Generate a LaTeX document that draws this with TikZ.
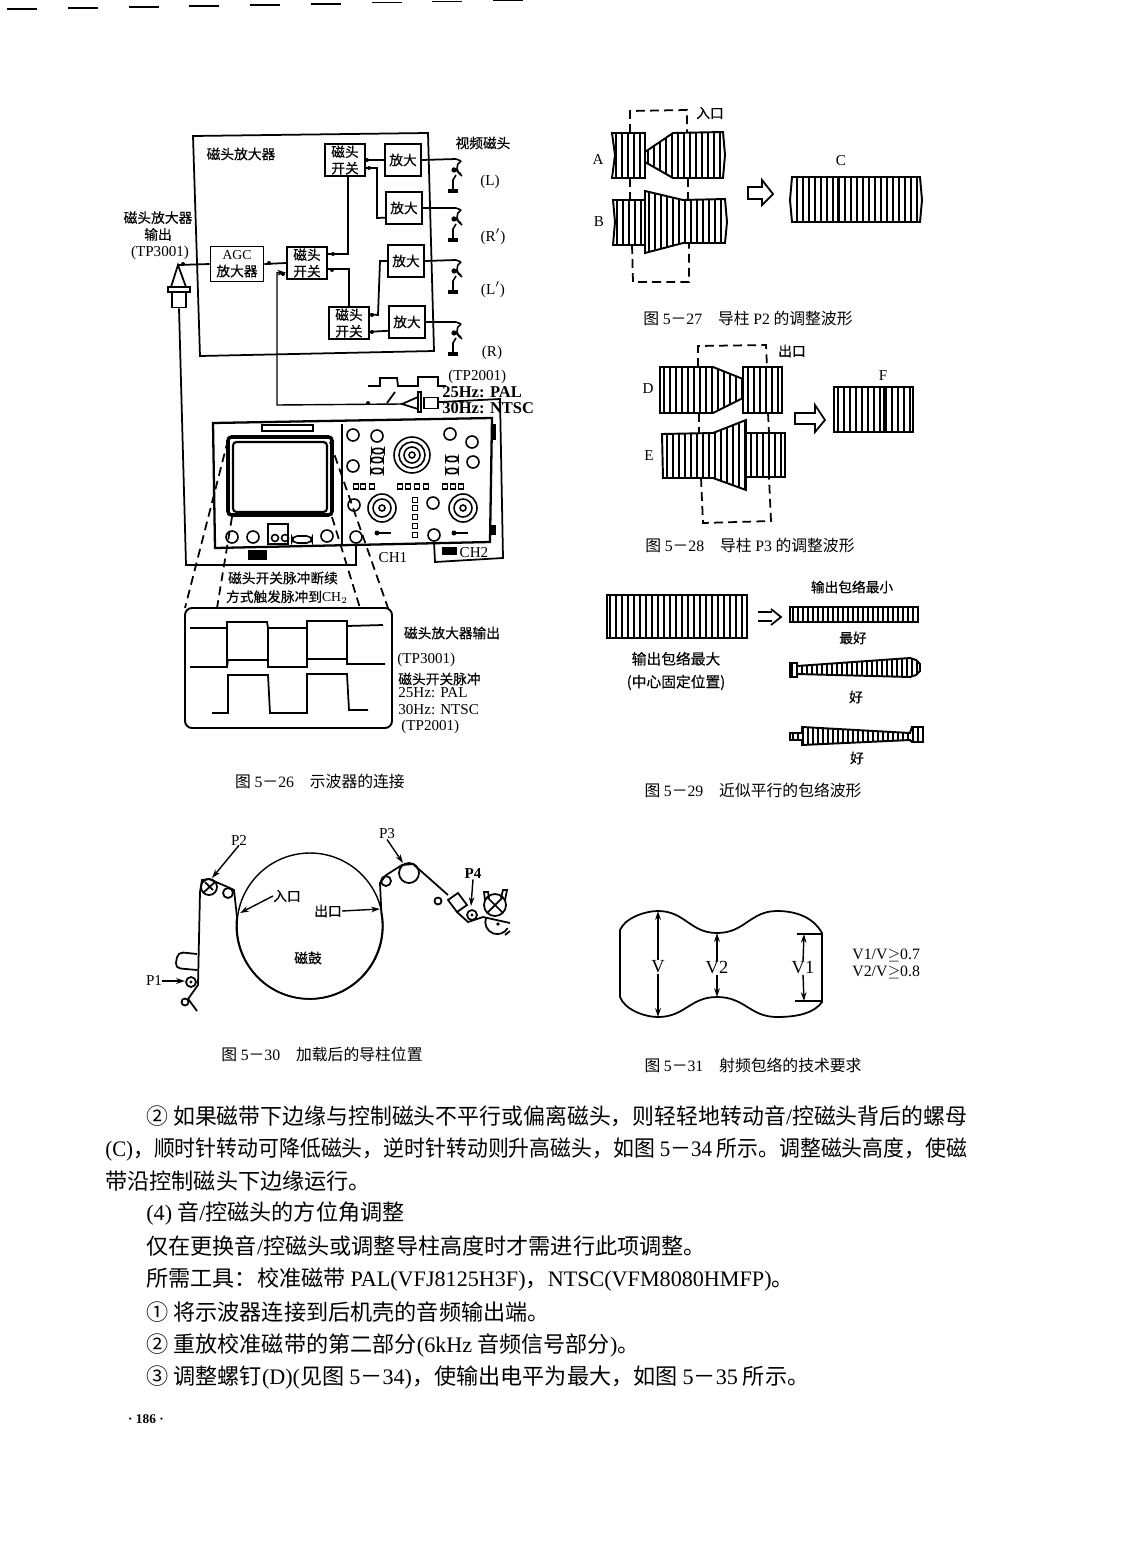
\documentclass[tikz,border=0pt]{standalone}
\usepackage{fontspec}
\usepackage{graphicx}
\setmainfont{Liberation Serif}
\newfontfamily\cjk{Noto Sans CJK SC}
\newfontfamily\cjkb[FakeBold=0.3]{Noto Sans CJK SC}
\usetikzlibrary{shapes,arrows.meta,positioning,calc}
\newcommand{\lat}[1]{{\rmfamily #1}}
\newcommand{\tapeband}[4]{%
\begin{scope}
\clip #1;
\foreach \sx in {#2,#3,...,#4}{\draw[stripe] (\sx,0) -- (\sx,1200);}
\end{scope}
\draw[tapeedge] #1;}
\newcommand{\fitline}[2]{\resizebox{#1}{\height}{#2}}
\tikzset{
wire/.style={line width=1pt},
stripe/.style={line width=1pt},
tapeedge/.style={line width=1.1pt},
dashline/.style={line width=1pt,dash pattern=on 5pt off 3pt},
arr/.style={line width=.8pt,-{Stealth[length=5pt,width=3.2pt]}},
blockbox/.style={draw,line width=1.1pt,inner sep=0pt,align=center,font=\cjkb\fontsize{7.8}{9.4}\selectfont},
ampbox/.style={blockbox,minimum width=.72cm,minimum height=.64cm},
switchbox/.style={blockbox,minimum width=.8cm,minimum height=.64cm},
lab/.style={inner sep=0pt,align=center,font=\cjkb\fontsize{7.8}{9.6}\selectfont},
latlab/.style={inner sep=0pt,font=\rmfamily\fontsize{8.6}{10}\selectfont},
hzlab/.style={inner sep=0pt,anchor=west,font=\rmfamily\bfseries\fontsize{9.4}{11}\selectfont},
biglab/.style={inner sep=0pt,font=\rmfamily\fontsize{10.5}{12}\selectfont},
ratiolab/.style={inner sep=0pt,anchor=west,font=\rmfamily\fontsize{9}{11}\selectfont},
capt/.style={inner sep=0pt,font=\cjk\fontsize{9}{10}\selectfont},
bodyline/.style={inner sep=0pt,anchor=west,font=\cjk\fontsize{12.6}{15}\selectfont},
knob/.style={draw,circle,line width=.9pt,inner sep=0pt,minimum size=.24cm},
videohead/.pic={
\draw[line width=.9pt] (0,0) -- (5,2);
\draw[line width=.9pt] (-3,9) -- (5,15);
\draw[line width=.9pt] (5,2) .. controls (-1,5) and (0,14) .. (6,17);
\fill (-2,11) circle (2.6);
\draw[line width=.9pt] (0,16) -- (-3,21) -- (-3,31);
\draw[line width=1.8pt] (-8,32) -- (2,32);
}
}
\begin{document}
\begin{tikzpicture}[x=0.02cm,y=-0.02cm]
\useasboundingbox (0,0) rectangle (1122,1568);
\fill[white] (0,0) rectangle (1122,1568);

\foreach \mx/\my in {7/9,68/8,129/7,189/6,250/5,311/4,372/2.5,432/1.5,493/0.6}
  \draw[line width=.9pt] (\mx,\my) -- ++(30,0);

% amplifier block
\draw[wire] (193,136) -- (428,133) -- (434,351) -- (200,356) -- cycle;
\node[lab] (title) at (241,154) {磁头放大器};
\node[ampbox] (amp1) at (403,160) {放大};
\node[ampbox] (amp2) at (404,208) {放大};
\node[ampbox] (amp3) at (406,261) {放大};
\node[ampbox] (amp4) at (407,322) {放大};
\node[switchbox] (sw1) at (345,160) {磁头\\开关};
\node[switchbox] (sw2) at (307,263) {磁头\\开关};
\node[switchbox] (sw3) at (349,323) {磁头\\开关};
\node[blockbox,minimum width=1.06cm,minimum height=.7cm] (agc) at (237,264) {\lat{AGC}\\放大器};

\coordinate (headL) at (456,159);
\coordinate (headRp) at (456,208);
\coordinate (headLp) at (456,260);
\coordinate (headR) at (456,322);
\draw[wire] (amp1.east) -- (headL);
\draw[wire] (amp2.east) -- (headRp);
\draw[wire] (amp3.east) -- (headLp);
\draw[wire] (amp4.east) -- (headR);
\pic at (headL) {videohead};
\pic at (headRp) {videohead};
\pic at (headLp) {videohead};
\pic at (headR) {videohead};

\draw[wire] (agc.east) -- (sw2.west);
\draw[wire] ([yshift=5pt]sw2.east) -| ([xshift=1.5pt]sw1.south);
\draw[wire] ([yshift=-3.5pt]sw2.east) -| (sw3.north);
\draw[wire] (sw1.east) -- (amp1.west);
\draw[wire] ([yshift=-4.5pt]sw1.east) -| (377,218) -- ([yshift=-5.5pt]amp2.west);
\draw[wire] ([yshift=5pt]sw3.east) -- (378,315) -- (380,261) -- (amp3.west);
\draw[wire] ([yshift=-5pt]amp4.west) -- ([yshift=-5pt]sw3.east);
\foreach \px/\py in {183/264,269/263,333/254,332/270,367/160,369/168,283/274,368/403,372/332,372/315}
  \fill (\px,\py) circle (2);

\node[lab] (headlab) at (483,143) {视频磁头};
\node[latlab] (labL) at (490,182) {(L)};
\node[latlab] (labRp) at (493,237) {(R$'$)};
\node[latlab] (labLp) at (493,290) {(L$'$)};
\node[latlab] (labR) at (492,353) {(R)};
\node[lab] (outlab) at (158,226) {磁头放大器\\输出};
\node[latlab] (tp3001a) at (160,253) {(TP3001)};

% probes
\coordinate (apexa) at (178,265);
\node[draw,wire,fill=white,minimum width=.28cm,minimum height=.3cm,inner sep=0pt] (bnc) at (179,300) {};
\draw[wire] (apexa) -- (171,287) -- (186,287) -- cycle;
\draw[wire,fill=white] (168,287) rectangle (190,292);
\draw[wire] (apexa) -- (agc.west);

\coordinate (apexb) at (402,404);
\coordinate (tpbend) at (277,405);
\node[draw,wire,fill=white,minimum width=.28cm,minimum height=.22cm,inner sep=0pt] (probeb) at (431,403) {};
\draw[wire] (apexb) -- (418,397) -- (418,409) -- cycle;
\draw[wire,fill=white] (418,392) rectangle (421,412);
\draw[wire,arr] (apexb) -- (tpbend) |- ([yshift=-5.5pt]sw2.west);
\draw[wire] (368,386) -- (380,386) -- (380,378) -- (397,378) -- (398,386) -- (418,386) -- (418,377) -- (438,377) -- (438,386) -- (446,386);
\draw[wire] (387,403) -- (395,392);
\node[latlab,anchor=west] (tpb) at (448,377) {(TP2001)};
\node[hzlab] (hz25a) at (442,392) {25Hz: PAL};
\node[hzlab] (hz30a) at (442,408) {30Hz: NTSC};

% oscilloscope
\draw[line width=1.3pt] (213,423) -- (492,418) -- (490,542) -- (215,548) -- cycle;
\draw[line width=1.1pt] (342,424) -- (342,545);
\draw[line width=1.4pt] (262,425) rectangle (313,431);
\draw[line width=2pt,rounded corners=2pt] (228,437) rectangle (332,515);
\draw[line width=1.2pt,rounded corners=2pt] (233,442) rectangle (327,512);
\fill (248,550) rectangle (267,560);
\fill (442,547) rectangle (457,555);
\fill (492,424) rectangle (496,440);
\fill (491,525) rectangle (496,535);
\foreach \kx/\ky in {232/537,253/537,327/536,353/435,377/436,450/434,472/442,473/462,353/466,354/505,433/503}
  \draw[line width=.9pt] (\kx,\ky) circle (6);
\foreach \kx/\ky in {275/538,285/538}
  \draw[line width=.9pt] (\kx,\ky) circle (3.5);
\draw[line width=.9pt] (268,524) rectangle (288,544);
\draw[line width=.9pt,rounded corners=3pt] (292,536) rectangle (312,543);
\draw[line width=.9pt] (412,455) circle (18) (412,455) circle (13) (412,455) circle (8) (412,455) circle (3);
\foreach \kx in {382,463}
  \draw[line width=.9pt] (\kx,508) circle (14) (\kx,508) circle (9) (\kx,508) circle (3);
\foreach \kx/\ky in {378/451,377/460,377/471,452/459,452/471}
  \draw[line width=.9pt,rounded corners=2pt] (\kx-6,\ky-2.5) rectangle (\kx+6,\ky+2.5);
\foreach \kx in {356,363,372,400,408,417,426,445,453,461}
  \draw[line width=.9pt] (\kx-2.5,484) rectangle (\kx+2.5,489);
\foreach \ky in {500,508,517,526,535}
  \draw[line width=.9pt] (412.5,\ky-2.5) rectangle (417.5,\ky+2.5);
\foreach \kx in {383,460}{
  \fill (\kx-6,533) circle (2.5);
  \draw[line width=.9pt] (\kx-6,533) -- (\kx+8,533);
}
\node[knob] (chonein) at (356,537) {};
\node[knob] (chtwoin) at (434,535) {};
\coordinate (chonebend) at (186,565);
\coordinate (chtwotop) at (500,399);
\coordinate (chtwobend) at (503,558);
\coordinate (chtwofoot) at (435,562);
\draw[wire] (bnc.south) -- (chonebend) -| (chonein.south);
\draw[wire] ([yshift=.5pt]probeb.east) -- (chtwotop) -- (chtwobend) -- (chtwofoot) -- (chtwoin.south);
\node[latlab] (chone) at (393,558) {CH1};
\node[latlab] (chtwo) at (474,553) {CH2};

% display
\coordinate (dl) at (185,608);
\coordinate (dr) at (392,728);
\draw[line width=1.1pt,rounded corners=4pt] (dl) rectangle (dr);
\draw[dashline] (228,440) -- (185,608);
\draw[dashline] (232,517) -- (217,608);
\draw[dashline] (330,442) -- (388,608);
\draw[dashline] (332,517) -- (360,608);
\draw[wire] (190,628) -- (227,628) -- (227,622) -- (267,622) -- (268,628) -- (307,628) -- (307,621) -- (347,621) -- (347,626) -- (383,625);
\draw[wire] (190,667) -- (227,667) -- (228,660) -- (268,660) -- (268,667) -- (307,667) -- (307,659) -- (347,659) -- (347,664) -- (385,664);
\draw[wire] (227,622) -- (227,667) (268,628) -- (268,660) (307,621) -- (307,667) (347,621) -- (347,664);
\draw[wire] (212,713) -- (228,713) -- (228,675) -- (268,675) -- (270,713) -- (307,713) -- (307,674) -- (347,674) -- (349,710) -- (368,710);
\node[lab] (pulselab) at (283,578) {磁头开关脉冲断续};
\node[lab] (triglab) at (287,597) {方式触发脉冲到\lat{CH$_2$}};
\node[lab] (amplab) at (452,633) {磁头放大器输出};
\node[latlab,anchor=west] (tp3001b) at (397,660) {(TP3001)};
\node[lab,anchor=west] (pulseb) at (398,679) {磁头开关脉冲};
\node[latlab,anchor=west] (hz25b) at (398,693) {25Hz: PAL};
\node[latlab,anchor=west] (hz30b) at (398,710) {30Hz: NTSC};
\node[latlab,anchor=west] (tp2001b) at (401,727) {(TP2001)};
\node[capt] (fig26) at (320,781) {图 \lat{5}－\lat{26}\quad 示波器的连接};

% fig 27
\tapeband{(612,133) -- (645,133) -- (645,178) -- (612,178) -- (615,155) -- cycle}{616}{622}{644}
\tapeband{(645,152) -- (673,133) -- (723,132) -- (725,155) -- (723,178) -- (673,178) -- (645,162) -- cycle}{648}{654}{724}
\tapeband{(613,200) -- (645,200) -- (645,245) -- (613,245) -- (615,222) -- cycle}{617}{623}{644}
\tapeband{(645,191) -- (683,200) -- (725,199) -- (727,222) -- (725,243) -- (683,243) -- (645,253) -- cycle}{649}{655}{726}
\tapeband{(792,177) -- (920,177) -- (922,200) -- (920,222) -- (792,222) -- (790,200) -- cycle}{797}{803}{918}
\draw[line width=1.6pt] (838,177) -- (838,222);
\draw[dashline] (630,133) -- (630,111) -- (687,110) -- (687,132);
\draw[dashline] (630,178) -- (630,200);
\draw[dashline] (688,178) -- (688,199);
\draw[dashline] (632,245) -- (633,282) -- (689,282) -- (689,243);
\draw[wire] (748,187) -- (762,187) -- (762,180) -- (773,194) -- (762,205) -- (762,199) -- (748,199) -- cycle;
\node[lab] (entry) at (710,113) {入口};
\node[latlab] (labA) at (598,160) {A};
\node[latlab] (labB) at (599,222) {B};
\node[latlab] (labC) at (841,161) {C};
\node[capt] (fig27) at (748,319) {图 \lat{5}－\lat{27}\quad 导柱 \lat{P2} 的调整波形};

% fig 28
\tapeband{(660,367) -- (713,367) -- (743,379) -- (743,398) -- (713,413) -- (660,413) -- cycle}{664}{670}{742}
\tapeband{(743,367) -- (782,367) -- (782,413) -- (743,413) -- cycle}{748}{754}{780}
\tapeband{(662,434) -- (713,433) -- (746,420) -- (746,490) -- (713,478) -- (663,478) -- cycle}{667}{673}{745}
\tapeband{(746,433) -- (785,433) -- (785,477) -- (746,477) -- cycle}{751}{757}{784}
\tapeband{(834,387) -- (913,387) -- (913,432) -- (834,432) -- cycle}{838}{844}{912}
\draw[line width=2pt] (885,387) -- (885,432);
\draw[dashline] (698,367) -- (698,346) -- (766,345) -- (767,367);
\draw[dashline] (699,413) -- (699,433);
\draw[dashline] (768,413) -- (769,433);
\draw[dashline] (701,478) -- (703,523) -- (771,521) -- (769,478);
\draw[wire] (795,413) -- (815,413) -- (815,405) -- (825,420) -- (815,432) -- (815,424) -- (795,424) -- cycle;
\node[lab] (exit) at (792,351) {出口};
\node[latlab] (labD) at (648,389) {D};
\node[latlab] (labE) at (649,456) {E};
\node[latlab] (labF) at (883,376) {F};
\node[capt] (fig28) at (750,546) {图 \lat{5}－\lat{28}\quad 导柱 \lat{P3} 的调整波形};

% fig 29
\tapeband{(607,595) -- (747,595) -- (747,638) -- (607,638) -- cycle}{610}{616}{746}
\begin{scope}
\foreach \sx in {610,616,...,746}{\draw[line width=1.4pt] (\sx,595) -- (\sx,638);}
\end{scope}
\tapeband{(790,607) -- (918,607) -- (918,622) -- (790,622) -- cycle}{793}{798}{917}
\tapeband{(790,663) -- (797,663) -- (797,666) -- (910,658) -- (916,660) -- (920,664) -- (920,671) -- (916,675) -- (910,677) -- (797,674) -- (797,677) -- (790,677) -- cycle}{792}{797}{919}
\tapeband{(790,733) -- (802,733) -- (802,727) -- (910,733) -- (912,727) -- (923,727) -- (923,742) -- (912,742) -- (910,740) -- (802,745) -- (802,740) -- (790,740) -- cycle}{793}{798}{922}
\draw[wire] (758,612) -- (772,612) (758,621) -- (772,621);
\draw[wire] (771,609) -- (781,617) -- (771,625);
\node[lab] (minlab) at (852,587) {输出包络最小};
\node[lab] (best) at (853,638) {最好};
\node[lab] (gooda) at (856,697) {好};
\node[lab] (goodb) at (857,758) {好};
\node[lab,font=\cjkb\fontsize{8.4}{13}\selectfont] (maxlab) at (676,671) {输出包络最大\\(中心固定位置)};
\node[capt] (fig29) at (753,790) {图 \lat{5}－\lat{29}\quad 近似平行的包络波形};

% fig 30
\node[draw,circle,line width=.8pt,minimum size=2.92cm,inner sep=0pt] (drum) at (310,926) {};
\node[lab] (drumlab) at (308,958) {磁鼓};
\node[draw,circle,wire,minimum size=.32cm,inner sep=0pt] (ptwo) at (209,887) {};
\draw[wire] (203,893) -- (215,882) (205,882) -- (213,890);
\node[draw,circle,wire,minimum size=.4cm,inner sep=0pt] (pthree) at (409,873) {};
\node[draw,circle,wire,minimum size=.2cm,inner sep=0pt] (rolla) at (228,893) {};
\node[draw,circle,wire,minimum size=.2cm,inner sep=0pt] (rollb) at (386,881) {};
\node[draw,circle,wire,minimum size=.14cm,inner sep=0pt] (rollc) at (185,1002) {};
\node[draw,circle,wire,minimum size=.2cm,inner sep=0pt] (pone) at (191,982) {};
\node[draw,circle,wire,minimum size=.14cm,inner sep=0pt] (rolld) at (438,901) {};
\node[draw,circle,wire,minimum size=.2cm,inner sep=0pt] (pfour) at (472,915) {};
\fill (191,982) circle (1.6) (472,915) circle (1.6);
\draw[line width=1pt] (197,1011) -- (rollc.north east) -- (198,985) -- (200,892) -- (202,880) -- (209,879) -- (rolla.north) -- (234,890) -- (237,917) arc[start angle=187,end angle=-10,radius=73] -- (380,883) -- (rollb.north) -- (402,865) -- (413,864) -- (448,895);
\draw[line width=1pt,rounded corners=3pt] (197,954) -- (178,952) -- (175,968) -- (197,970);
\draw[wire] (448,900) -- (458,893) -- (467,905) -- (457,912) -- cycle;
\draw[wire] (457,912) -- (468,922) -- (483,917) -- (510,923);
\draw[wire] (495,905) circle (11);
\draw[wire] (487,897) -- (503,913) (503,897) -- (487,913);
\draw[wire] (485,900) -- (484,892) -- (488,892) -- (489,898) (501,898) -- (503,890) -- (507,890) -- (505,900);
\draw[wire] (486,918) arc[start angle=200,end angle=30,radius=12];
\draw[wire] (510,931) -- (505,935);
\fill (498,924) circle (1.8);
\node[latlab] (labPone) at (154,981) {P1};
\node[latlab] (labPtwo) at (239,840) {P2};
\node[latlab] (labPthree) at (387,834) {P3};
\node[latlab] (labPfour) at (473,874) {\textbf{P4}};
\node[lab] (entrylab) at (287,896) {入口};
\node[lab] (exitlab) at (328,911) {出口};
\coordinate (tipone) at (185,981);
\coordinate (tiptwo) at (212,878);
\coordinate (tipthree) at (403,863);
\coordinate (tipfour) at (471,906);
\coordinate (tipin) at (240,913);
\coordinate (tipout) at (380,909);
\draw[arr] (labPone.east) -- (tipone);
\draw[arr] (labPtwo.south) -- (tiptwo);
\draw[arr] (labPthree.south) -- (tipthree);
\draw[arr] (labPfour.south) -- (tipfour);
\draw[arr] (entrylab.west) -- (tipin);
\draw[arr] (exitlab.east) -- (tipout);
\node[capt] (fig30) at (322,1054) {图 \lat{5}－\lat{30}\quad 加载后的导柱位置};

% fig 31
\draw[line width=1pt] (620,930) .. controls (625,918) and (645,911) .. (658,911) .. controls (685,911) and (690,933) .. (717,933) .. controls (745,933) and (750,911) .. (777,911) .. controls (800,911) and (815,920) .. (822,933) -- (822,1002) .. controls (815,1012) and (800,1017) .. (777,1017) .. controls (750,1017) and (745,997) .. (717,997) .. controls (690,997) and (685,1017) .. (658,1017) .. controls (645,1017) and (625,1010) .. (620,997) -- cycle;
\node[biglab] (labV) at (658,967) {V};
\node[biglab] (labVtwo) at (717,968) {V2};
\node[biglab] (labVone) at (803,968) {V1};
\coordinate (vtop) at (658,911);
\coordinate (vbot) at (658,1017);
\coordinate (vtwotop) at (717,933);
\coordinate (vtwobot) at (717,997);
\coordinate (vonetop) at (804,934);
\coordinate (vonebot) at (804,1001);
\draw[arr] (labV.north) -- (vtop);
\draw[arr] (labV.south) -- (vbot);
\draw[arr] (labVtwo.north) -- (vtwotop);
\draw[arr] (labVtwo.south) -- (vtwobot);
\draw[arr] (labVone.north) -- (vonetop);
\draw[arr] (labVone.south) -- (vonebot);
\draw[line width=.8pt] (797,934) -- (822,934) (795,1001) -- (822,1001);
\node[ratiolab] (ratioa) at (852,955) {V1/V$\geq$0.7};
\node[ratiolab] (ratiob) at (852,972) {V2/V$\geq$0.8};
\node[capt] (fig31) at (753,1065) {图 \lat{5}－\lat{31}\quad 射频包络的技术要求};

% body text
\node[bodyline] (bodya) at (146,1116) {\fitline{16.42cm}{② 如果磁带下边缘与控制磁头不平行或偏离磁头，则轻轻地转动音\lat{/}控磁头背后的螺母}};
\node[bodyline] (bodyb) at (105,1149) {\fitline{17.24cm}{\lat{(C)}，顺时针转动可降低磁头，逆时针转动则升高磁头，如图 \lat{5}－\lat{34} 所示。调整磁头高度，使磁}};
\node[bodyline] (bodyc) at (105,1181) {带沿控制磁头下边缘运行。};
\node[bodyline] (bodyd) at (146,1213) {\lat{(4)} 音\lat{/}控磁头的方位角调整};
\node[bodyline] (bodye) at (146,1246) {仅在更换音\lat{/}控磁头或调整导柱高度时才需进行此项调整。};
\node[bodyline] (bodyf) at (146,1279) {所需工具：校准磁带 \lat{PAL(VFJ8125H3F)}，\lat{NTSC(VFM8080HMFP)}。};
\node[bodyline] (bodyg) at (146,1312) {① 将示波器连接到后机壳的音频输出端。};
\node[bodyline] (bodyh) at (146,1345) {② 重放校准磁带的第二部分\lat{(6kHz} 音频信号部分\lat{)}。};
\node[bodyline] (bodyi) at (146,1377) {③ 调整螺钉\lat{(D)(}见图 \lat{5}－\lat{34)}，使输出电平为最大，如图 \lat{5}－\lat{35} 所示。};
\node[latlab,font=\rmfamily\bfseries\fontsize{7.6}{9}\selectfont] (page) at (146,1419) {· 186 ·};
\end{tikzpicture}
\end{document}
